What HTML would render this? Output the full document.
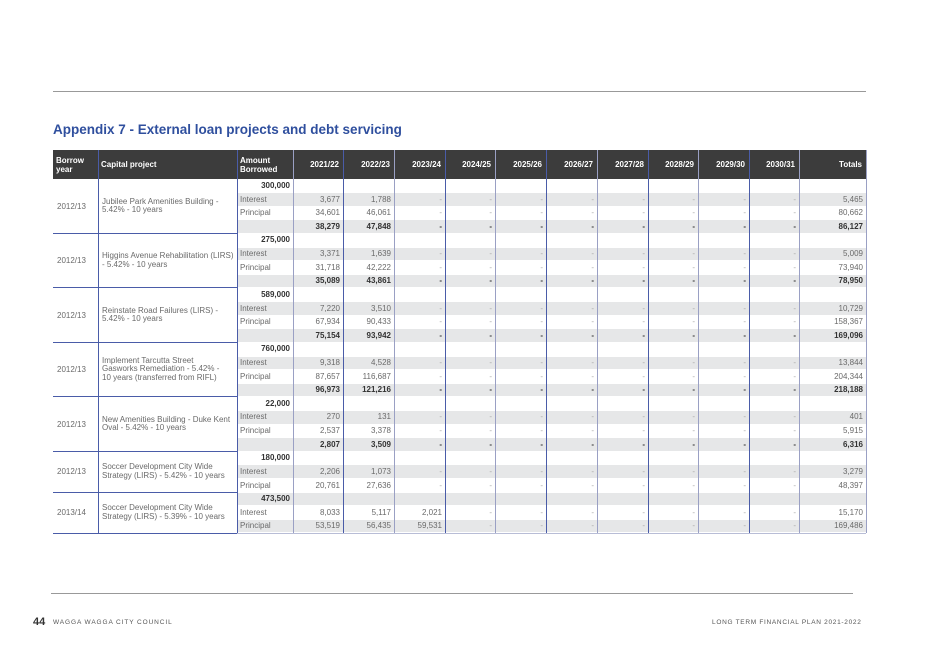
<!DOCTYPE html>
<html><head><meta charset="utf-8">
<style>
body{margin:0;width:928px;height:656px;background:#fff;position:relative;overflow:hidden;font-family:"Liberation Sans",sans-serif}
.a{position:absolute;white-space:nowrap;box-sizing:border-box}
.hd{color:#fff;font-weight:bold;font-size:8px;line-height:9px}
.c{font-size:8px;color:#6a6a6a;line-height:13.6px;text-align:right;padding-right:3px}
.b{font-weight:bold;color:#333}
.l{text-align:left;padding-left:3px;padding-right:0}
</style></head><body>
<div class="a" style="left:53px;top:91px;width:813px;height:1px;background:#999"></div>
<div class="a" style="left:53px;top:122px;font-size:13.5px;font-weight:bold;color:#2f4f9e">Appendix 7 - External loan projects and debt servicing</div>
<div class="a" style="left:53px;top:150px;width:813px;height:29px;background:#3c3c3c"></div>
<div id="tbl"></div>
<div class="a" style="left:51px;top:593px;width:802px;height:1px;background:#999"></div>
<div class="a" style="left:33px;top:616px;font-size:11px;font-weight:bold;color:#333">44</div>
<div class="a" style="left:53px;top:619px;font-size:6.5px;letter-spacing:0.9px;color:#555">WAGGA WAGGA CITY COUNCIL</div>
<div class="a" style="left:712px;top:619px;width:141px;text-align:right;font-size:6.5px;letter-spacing:0.7px;color:#555">LONG TERM FINANCIAL PLAN 2021-2022</div>
<script>
const years=["2021/22","2022/23","2023/24","2024/25","2025/26","2026/27","2027/28","2028/29","2029/30","2030/31"];
const borrowYears=["2012/13","2012/13","2012/13","2012/13","2012/13","2012/13","2013/14"];
const projects=[
["Jubilee Park Amenities Building -","5.42% - 10 years"],
["Higgins Avenue Rehabilitation (LIRS)","- 5.42% - 10 years"],
["Reinstate Road Failures (LIRS) -","5.42% - 10 years"],
["Implement Tarcutta Street","Gasworks Remediation - 5.42% -","10 years (transferred from RIFL)"],
["New Amenities Building - Duke Kent","Oval - 5.42% - 10 years"],
["Soccer Development City Wide","Strategy (LIRS) - 5.42% - 10 years"],
["Soccer Development City Wide","Strategy (LIRS) - 5.39% - 10 years"]];
const amounts=[300000,275000,589000,760000,22000,180000,473500];
const interest=[[3677,1788],[3371,1639],[7220,3510],[9318,4528],[270,131],[2206,1073],[8033,5117,2021]];
const principal=[[34601,46061],[31718,42222],[67934,90433],[87657,116687],[2537,3378],[20761,27636],[53519,56435,59531]];
const interestTotals=[5465,5009,10729,13844,401,3279,15170];
const principalTotals=[80662,73940,158367,204344,5915,48397,169486];
const yearTotals=[[38279,47848],[35089,43861],[75154,93942],[96973,121216],[2807,3509],null,null];
const grandTotals=[86127,78950,169096,218188,6316,null,null];

const T=document.getElementById('tbl');
const colX=[53,98,237,293,343,394,445,495,546,597,648,698,749,799,866];
const top0=179,rh=354/26;
const fmt=v=>v.toLocaleString('en-US');
function el(cls,x,y,w,h,txt,extra){const d=document.createElement('div');d.className='a '+cls;d.style.left=x+'px';d.style.top=y+'px';if(w)d.style.width=w+'px';if(h)d.style.height=h+'px';if(txt!==undefined)d.textContent=txt;if(extra)d.style.cssText+=extra;T.appendChild(d);return d;}
const hdr=[["Borrow","year"],["Capital project"],["Amount","Borrowed"]].concat(years.map(y=>[y])).concat([["Totals"]]);
hdr.forEach((h,i)=>{const x=colX[i],w=colX[i+1]-x;const d=el('hd',x+3,150,w-7,29,undefined,'display:flex;flex-direction:column;justify-content:center;'+(i>=3?'text-align:right;':''));d.innerHTML=h.join('<br>');

});
let row=0;
amounts.forEach((amt,b)=>{
  const hasTot=yearTotals[b]!==null;
  const n=hasTot?4:3;const y0=top0+row*rh;
  const rowsDef=[['amount'],['Interest',interest[b],interestTotals[b]],['Principal',principal[b],principalTotals[b]]];
  if(hasTot)rowsDef.push(['total',yearTotals[b],grandTotals[b]]);
  rowsDef.forEach((rd,r)=>{
    const ri=row+r,y=top0+ri*rh;
    if(ri%2===1){const g=el('',237,y+0.5,629,rh-1,undefined,'background:#e6e7e8');
    
    }
    if(rd[0]==='amount'){const c=el('c b',237,y,56,rh,fmt(amt));
    
    return;}
    const bold=rd[0]==='total';
    if(!bold){const lb=el('c l',237,y,56,rh,rd[0]);
    
    }
    years.forEach((yy,k)=>{const v=rd[1][k];const c=el('c'+(bold?' b':''),colX[3+k],y,colX[4+k]-colX[3+k],rh,v?fmt(v):'-',(!v&&!bold)?'color:#aaa':'');
    
    });
    const tc=el('c'+(bold?' b':''),799,y,67,rh,fmt(rd[2]));
    
    
  });
  const h=n*rh;
  const by=el('c l',53,y0,45,h,borrowYears[b],'display:flex;align-items:center;line-height:9px;padding-left:4px');
  
  
  const pj=el('c l',98,y0,139,h,undefined,'display:flex;align-items:center;line-height:8.5px;white-space:normal;padding-left:4px');
  pj.innerHTML=projects[b].join('<br>');
  
  
  row+=n;
  const ln=el('',53,top0+row*rh-0.5,184,1,undefined,'background:#4a5ca8');
  
  
});
[98,237,293,343,394,445,495,546,597,648,698,749,799,866].forEach((x,i)=>{
  const dark=[98,237,343,445,546,648,749].includes(x);
  const v=el('',x,150,1,383,undefined,'background:'+(dark?'#4a5ca8':'#9aa0c4'));
  
  
});
const bl=el('',237,532.5,629,1,undefined,'background:#b8bdd6');


</script>
</body></html>
